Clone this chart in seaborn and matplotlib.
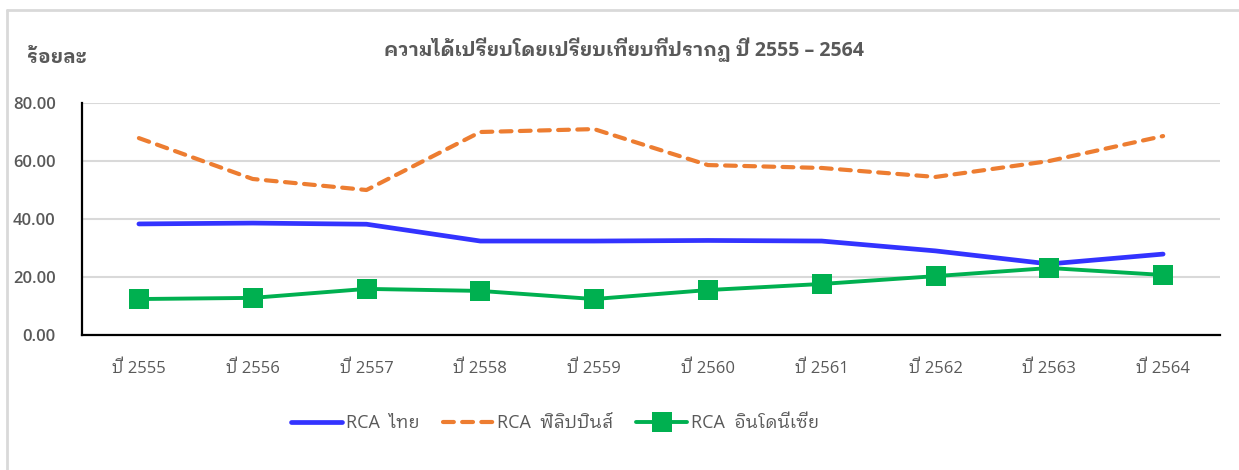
import matplotlib
matplotlib.use("Agg")
import matplotlib.pyplot as plt
from matplotlib.lines import Line2D
import pandas as pd
import seaborn as sns

years = ["ปี 2555", "ปี 2556", "ปี 2557", "ปี 2558", "ปี 2559",
         "ปี 2560", "ปี 2561", "ปี 2562", "ปี 2563", "ปี 2564"]
rca_thai = [38.3, 38.6, 38.2, 32.4, 32.4, 32.6, 32.4, 29.0, 24.5, 27.9]
rca_phil = [67.9, 53.8, 50.0, 70.0, 71.0, 58.6, 57.6, 54.5, 60.0, 68.6]
rca_indo = [12.4, 12.8, 15.9, 15.2, 12.4, 15.5, 17.6, 20.3, 23.1, 20.7]
series_names = ["RCA  ไทย", "RCA  ฟิลิปปินส์", "RCA  อินโดนีเซีย"]
yticks = [0, 20, 40, 60, 80]

sns.set_theme(style="white")
FONT = ["Open Sans", "IBM Plex Sans Thai Looped", "Noto Sans Thai Looped", "DejaVu Sans"]
plt.rcParams["font.family"] = FONT
GREY = "#595959"

W, H = 1239, 470
fig = plt.figure(figsize=(W / 100, H / 100), dpi=100)
# chart area border, only left and top edges fall inside the image
fig.add_artist(Line2D([7 / W, 7 / W], [0, 1 - 10 / H], transform=fig.transFigure,
                      color="#d9d9d9", linewidth=2))
fig.add_artist(Line2D([7 / W, 1], [1 - 10 / H, 1 - 10 / H], transform=fig.transFigure,
                      color="#d9d9d9", linewidth=2))

ax = fig.add_axes([82 / W, (H - 335) / H, 1138 / W, 232 / H])

df_thai = pd.DataFrame({"year": years, "value": rca_thai})
df_phil = pd.DataFrame({"year": years, "value": rca_phil})
df_indo = pd.DataFrame({"year": years, "value": rca_indo})

sns.lineplot(data=df_thai, x="year", y="value", ax=ax, color="#3333FF",
             linewidth=3.4, solid_capstyle="round", label=series_names[0], zorder=3)
sns.lineplot(data=df_phil, x="year", y="value", ax=ax, color="#ED7D31",
             linewidth=3.0, linestyle=(0, (2.6, 2.0)), dash_capstyle="round",
             label=series_names[1], zorder=3)
sns.lineplot(data=df_indo, x="year", y="value", ax=ax, color="#00B050",
             linewidth=2.8, marker="s", markersize=14, markeredgewidth=0,
             label=series_names[2], zorder=4)

ax.set_xlim(-0.5, 9.5)
ax.set_ylim(0, 80)
ax.set_yticks(yticks)
ax.set_yticklabels([f"{v:.2f}" for v in yticks], fontsize=12, fontweight="semibold", color=GREY)
ax.set_xticks(range(len(years)))
ax.set_xticklabels(years, fontsize=12, color=GREY)
ax.tick_params(axis="y", length=0, pad=19)
ax.tick_params(axis="x", length=0, pad=18)
ax.set_xlabel("")
ax.set_ylabel("")
ax.yaxis.grid(True, color="#d9d9d9", linewidth=1.5)
ax.set_axisbelow(True)
for s in ["top", "right"]:
    ax.spines[s].set_visible(False)
for s in ["left", "bottom"]:
    ax.spines[s].set_color("black")
    ax.spines[s].set_linewidth(1.6)

fig.text(624 / W, 1 - 50 / H, "ความได้เปรียบโดยเปรียบเทียบที่ปรากฏ ปี 2555 – 2564",
         ha="center", va="center", fontsize=14, fontweight="bold", color=GREY)
fig.text(27 / W, 1 - 58 / H, "ร้อยละ", ha="left", va="center",
         fontsize=14, fontweight="bold", color=GREY)

leg = ax.legend(loc="center", bbox_to_anchor=(555 / W, 1 - 423 / H),
                bbox_transform=fig.transFigure, ncol=3, frameon=False,
                fontsize=13, handlelength=2.8, handletextpad=0.2,
                columnspacing=1.3)
for t in leg.get_texts():
    t.set_color(GREY)

fig.savefig("out.png", dpi=100)
